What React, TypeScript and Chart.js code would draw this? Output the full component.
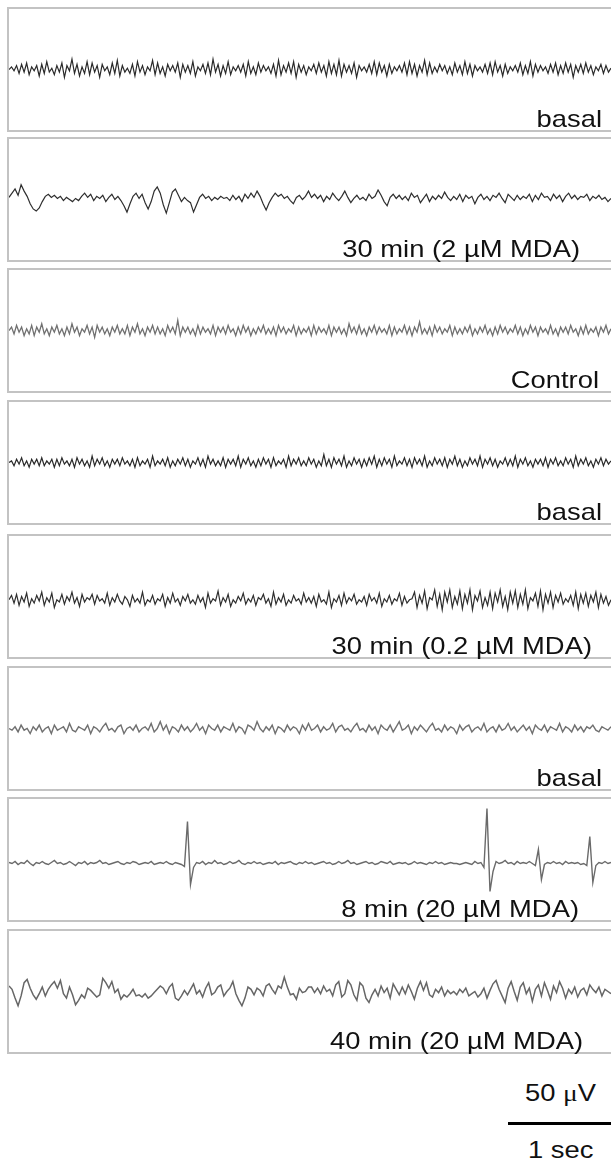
import React, { useEffect, useRef } from "react";
import { Chart, registerables } from "chart.js";

Chart.register(...registerables);

// ---------- data ----------
const LABELS = [
  "basal",
  "30 min (2 µM MDA)",
  "Control",
  "basal",
  "30 min (0.2 µM MDA)",
  "basal",
  "8 min (20 µM MDA)",
  "40 min (20 µM MDA)",
];

const TRACE_1 = [
  0,2,-1,3,-3,4,-2,5,-4,2,
  -1,3,-5,4,-3,6,-2,1,-4,3,
  -2,5,-6,3,-1,8,-3,4,-5,2,
  -3,6,-4,5,-2,3,-6,4,-1,2,
  -4,5,-3,7,-5,3,-2,1,-3,4,
  -5,6,-2,3,-4,2,-1,7,-4,5,
  -3,2,-5,4,-1,3,-2,5,-6,4,
  -2,3,-3,6,-5,2,-1,4,-3,5,
  -4,8,-2,4,-5,3,-3,6,-4,2,
  -1,3,-2,4,-5,6,-3,2,-4,5,
  -2,3,-1,2,-3,4,-5,7,-4,3,
  -2,5,-3,6,-6,4,-2,3,-4,2,
  -1,4,-3,5,-2,3,-5,6,-3,4,
  -4,7,-5,4,-2,3,-3,5,-6,3,
  -1,2,-2,4,-3,6,-4,5,-2,3,
  -5,4,-3,2,-1,3,-2,5,-4,6,
  -3,4,-5,3,-2,7,-4,5,-3,2,
  -2,4,-1,3,-3,2,-4,5,-2,3,
  -4,6,-3,4,-5,3,-1,2,-2,4,
  -3,5,-4,6,-2,3,-5,4,-3,2,
  -1,3,-2,5,-4,3,-3,6,-5,4,
  -2,3,-1,2,-3,4,-2,5,-4,3,
  -3,5,-2,4,-6,3,-2,4,-3,5,
  -2,3,-4,2,-1,4,-3,3,-2,1,
];

const TRACE_2 = [
  2,6,10,4,14,8,3,-4,-9,-11,
  -8,-2,3,5,2,4,1,3,-1,2,
  0,-2,1,-1,3,6,2,5,-1,3,
  1,4,-2,2,5,0,3,-1,-6,-12,
  -4,3,6,1,5,-3,-9,-2,8,12,
  6,-5,-13,-3,7,10,4,-2,2,-1,
  -3,-12,-5,2,5,1,3,-1,2,0,
  3,1,2,-1,4,0,3,-2,5,1,
  6,2,8,3,-4,-10,-3,2,6,3,
  5,1,3,-1,-4,2,4,0,3,8,
  2,5,1,4,-2,3,0,6,2,-1,
  3,8,2,-3,1,4,0,2,-1,5,
  1,3,9,4,-2,-6,2,5,1,4,
  0,3,-1,6,2,4,-3,1,5,-2,
  3,0,4,1,7,2,-1,3,0,5,
  -2,4,1,3,-4,2,5,0,3,-1,
  4,2,6,1,-3,5,2,-1,4,0,
  3,1,5,-2,4,0,6,2,3,-1,
  5,1,4,-2,3,6,1,4,0,3,
  2,5,-1,3,1,4,0,2,-2,1,
];

const TRACE_3 = [
  0,2,-2,3,-1,2,-3,1,-2,3,
  -3,2,-1,4,-2,1,-3,2,-1,3,
  -2,1,-3,2,-2,4,-1,2,-3,1,
  -1,3,-2,2,-4,3,-1,2,-2,1,
  -3,2,-1,3,-2,1,-2,3,-3,2,
  -1,4,-2,1,-3,2,-1,3,-2,2,
  -2,1,-3,3,-1,2,-2,6,-3,2,
  -1,2,-2,1,-3,3,-2,2,-1,1,
  -2,3,-3,2,-1,2,-2,3,-1,1,
  -3,2,-2,3,-1,2,-3,1,-2,2,
  -1,3,-2,1,-2,2,-3,3,-1,2,
  -2,1,-1,3,-3,2,-2,1,-1,2,
  -3,3,-2,2,-1,1,-2,3,-3,2,
  -1,2,-2,1,-3,4,-1,2,-2,3,
  -2,1,-3,2,-1,3,-2,2,-1,1,
  -2,3,-3,2,-2,1,-1,3,-2,2,
  -3,2,-1,5,-2,1,-2,2,-3,3,
  -1,2,-2,1,-1,3,-3,2,-2,1,
  -2,2,-1,3,-3,1,-2,2,-1,3,
  -2,1,-3,2,-2,3,-1,2,-2,1,
  -1,3,-2,2,-3,1,-2,3,-1,2,
  -3,2,-1,1,-2,3,-2,1,-3,2,
  -1,2,-2,3,-1,1,-3,2,-2,3,
  -2,1,-1,2,-3,2,-1,3,-2,1,
];

const TRACE_4 = [
  0,1,-2,2,-1,3,-2,1,-3,2,
  -1,2,-2,3,-2,1,-1,2,-3,2,
  -2,3,-1,1,-2,2,-3,3,-1,2,
  -2,1,-3,4,-2,2,-1,3,-2,1,
  -3,2,-1,2,-2,3,-1,1,-2,2,
  -3,3,-2,1,-1,2,-3,4,-2,1,
  -1,2,-2,3,-3,1,-2,2,-1,3,
  -2,2,-3,1,-1,3,-2,2,-3,4,
  -1,2,-2,1,-2,3,-3,2,-1,2,
  -2,4,-3,2,-1,3,-2,1,-3,2,
  -2,3,-1,2,-3,3,-2,1,-1,2,
  -3,4,-2,2,-1,3,-2,1,-2,3,
  -1,2,-3,1,-2,5,-2,2,-3,3,
  -1,2,-2,4,-3,1,-2,3,-1,2,
  -3,2,-2,3,-1,4,-3,2,-2,3,
  -1,2,-3,4,-2,1,-1,3,-2,2,
  -3,3,-1,2,-2,4,-3,1,-2,3,
  -1,2,-2,3,-3,2,-1,4,-2,2,
  -3,1,-2,3,-1,2,-2,4,-3,2,
  -1,3,-2,2,-3,1,-1,3,-2,2,
  -2,4,-3,2,-1,3,-2,1,-3,2,
  -1,2,-2,3,-3,2,-1,3,-2,1,
  -2,3,-1,2,-3,4,-2,2,-1,3,
  -2,1,-3,2,-1,3,-2,2,-1,1,
];

const TRACE_5 = [
  -3,1,-6,2,-8,0,-5,3,-9,-2,
  -6,1,-4,4,-8,-1,-5,3,-10,-3,
  -5,2,-7,0,-4,4,-6,-1,-9,2,
  -5,-1,-3,2,-7,1,-4,-2,-6,3,
  -8,-1,-5,2,-4,-7,0,-3,-9,1,
  -5,-2,-6,4,-8,-3,-5,1,-7,-2,
  -4,2,-9,-1,-6,3,-5,-2,-8,0,
  -4,2,-6,-3,-7,1,-5,-1,-10,3,
  -6,-2,-4,5,-8,-1,-5,2,-9,-3,
  -6,0,-4,3,-7,-2,-5,1,-8,-1,
  -3,2,-6,-2,-9,4,-7,-1,-5,2,
  -8,-3,-6,1,-4,-2,-7,3,-5,-1,
  -6,0,-9,2,-5,-3,-7,4,-10,-2,
  -5,1,-8,3,-6,-1,-4,2,-7,-3,
  -5,0,-8,2,-4,-1,-6,3,-9,-2,
  -5,1,-7,-2,-4,3,-8,0,-6,-3,
  -2,4,-10,1,-6,5,-11,-1,-3,6,
  -9,2,-12,4,-5,6,-10,0,-7,5,
  -11,2,-6,6,-12,1,-4,5,-10,-1,
  -8,4,-11,3,-5,6,-9,0,-12,4,
  -6,5,-10,2,-7,6,-11,-1,-4,3,
  -9,5,-12,2,-6,4,-10,1,-5,3,
  -7,-2,-5,1,-8,4,-11,2,-6,3,
  -9,1,-5,4,-10,2,-6,0,-8,-3,
];

const TRACE_6 = [
  0,-1,1,-2,2,-1,0,-3,1,-1,
  2,-2,0,1,-3,2,-1,0,1,-2,
  3,-1,-2,1,0,-1,2,-3,1,0,
  -2,1,3,-1,0,-2,1,2,-3,0,
  1,-1,2,-2,0,1,-1,3,-2,0,
  4,-1,2,-3,1,0,-2,2,-1,1,
  -2,0,3,-1,1,-3,2,0,-1,2,
  -2,1,0,-1,3,-2,1,0,-3,2,
  1,-1,4,0,-2,1,-1,2,-3,1,
  0,-2,2,-1,1,0,-3,2,-1,3,
  -1,0,2,-2,1,-1,0,3,-2,1,
  2,-1,0,-2,1,3,-1,0,-2,2,
  -1,1,-3,2,0,-1,2,-2,1,4,
  -1,0,2,-3,1,-1,2,0,-2,1,
  3,-1,0,-2,2,-1,1,0,-3,2,
  -1,1,2,-2,0,1,-1,3,-2,0,
  1,-2,2,-1,0,3,-1,1,-2,0,
  2,-1,1,-3,2,0,-1,2,-2,1,
  0,-1,3,-2,1,0,-2,2,-1,1,
  -2,1,0,2,-1,-2,1,0,-1,1,
];

const TRACE_7 = [
  -3,-4,-2,-5,-3,-4,-1,-4,-6,-3,
  -4,-2,-4,-5,-3,-1,-4,-3,-5,-4,
  -2,-4,-6,-3,-4,-2,-5,-3,-4,-3,
  -1,-4,-3,-5,-4,-3,-2,-4,-5,-3,
  -4,-2,-3,-5,-4,-3,-4,-2,-5,-4,
  -3,-4,-2,-4,-5,-3,-4,-5,-7,38,
  -25,-8,-3,-4,-2,-5,-3,-4,-1,-4,
  -3,-5,-4,-2,-4,-3,-1,-4,-5,-3,
  -4,-2,-4,-3,-5,-4,-3,-4,-2,-5,
  -3,-4,-3,-2,-4,-5,-3,-4,-2,-4,
  -3,-5,-4,-3,-2,-4,-3,-5,-4,-2,
  -4,-3,-1,-4,-3,-5,-4,-3,-2,-4,
  -3,-5,-4,-2,-3,-4,-2,-5,-4,-3,
  -4,-3,-5,-4,-2,-4,-3,-4,-5,-3,
  -4,-2,-4,-3,-5,-4,-3,-4,-4,-5,
  -4,-3,-4,-5,-2,-4,-3,-8,51,-32,
  -12,-2,-4,-3,-1,-4,-3,-5,-2,-4,
  -3,-4,-2,-4,-6,10,-20,-5,-3,-4,
  -2,-4,-3,-5,-2,-4,-3,-4,-3,-5,
  -4,-6,23,-23,-6,-3,-4,-2,-4,-3,
];

const TRACE_8 = [
  5,2,-6,-13,-4,8,11,3,-3,-7,
  -2,4,-4,2,6,9,3,10,-2,-6,
  4,-3,-12,-8,-3,-6,3,1,-2,-5,
  -3,12,8,3,9,-1,2,-7,-3,-5,
  -2,2,-4,-3,-5,-2,-6,-4,-1,2,
  5,3,-2,4,7,-6,-8,-4,1,-3,
  2,7,-2,1,-5,3,8,-3,-1,4,
  6,-4,0,3,9,-2,-8,-13,-6,4,
  2,-3,3,1,-4,5,7,2,-2,5,
  3,13,4,-3,-2,-7,3,-1,0,4,
  4,-1,3,-2,5,0,2,-4,6,9,
  -5,-2,10,6,-3,-8,8,5,-6,-10,
  -3,2,-4,5,-1,3,-6,7,2,-3,
  4,-2,6,0,-7,3,9,1,8,-3,
  -5,2,-1,4,-4,1,-2,0,-3,2,
  -1,3,-4,-2,0,-5,-2,3,-6,1,
  7,10,2,-4,-10,3,9,0,-8,4,
  8,-2,3,-9,2,6,-4,8,1,-7,
  5,-1,9,3,-6,2,-2,4,-5,1,
  3,-3,6,2,-1,4,-4,2,0,-2,
];

const TRACES = [TRACE_1, TRACE_2, TRACE_3, TRACE_4, TRACE_5, TRACE_6, TRACE_7, TRACE_8];

const SCALE_V_LABEL = "50 ";
const SCALE_V_UNIT = "μ";
const SCALE_V_UNIT2 = "V";
const SCALE_T_LABEL = "1 sec";

// ---------- layout / style ----------
const PANEL_TOPS = [7, 137, 268, 400, 534, 666, 797, 929];
const PANEL_H = 125;
const PANEL_LEFT = 7;
const BORDER = 2;
const PLOT_W = 602;
const PLOT_H = PANEL_H - 2 * BORDER;
// vertical display gain per panel (scale setting, not data)
const PANEL_GAIN = [1.3, 1.05, 1.7, 1.6, 1.1, 1.7, 1, 1.1];
const LABEL_RIGHT = [602, 580, 599, 602, 592, 602, 579, 583];
const TRACE_COLORS = ["#2a2a2a", "#2e2e2e", "#707070", "#2a2a2a", "#2e2e2e", "#707070", "#6a6a6a", "#666666"];
const TRACE_WIDTHS = [1.2, 1.2, 1.3, 1.2, 1.2, 1.4, 1.4, 1.5];
const FONT = "'Liberation Sans', Arial, Helvetica, sans-serif";
const FONT_SIZE = 24;
const STRETCH = 1.14;

function Trace({ values, color, width, gain }: { values: number[]; color: string; width: number; gain: number }) {
  const ref = useRef<HTMLCanvasElement | null>(null);
  useEffect(() => {
    if (!ref.current) return;
    const half = PLOT_H / 2 / gain;
    const chart = new Chart(ref.current, {
      type: "line",
      data: {
        datasets: [
          {
            data: values.map((v, i) => ({ x: i, y: v })),
            borderColor: color,
            borderWidth: width,
            pointRadius: 0,
            tension: 0,
            fill: false,
          },
        ],
      },
      options: {
        animation: false,
        responsive: false,
        maintainAspectRatio: false,
        events: [],
        layout: { padding: 0 },
        plugins: { legend: { display: false }, tooltip: { enabled: false }, title: { display: false } },
        scales: {
          x: { type: "linear", min: 0, max: values.length - 1, display: false },
          y: { type: "linear", min: -half, max: half, display: false },
        },
      },
    } as any);
    return () => chart.destroy();
  }, [values, color, width, gain]);
  return (
    <canvas
      ref={ref}
      width={PLOT_W}
      height={PLOT_H}
      style={{ position: "absolute", left: 0, top: 0, width: PLOT_W, height: PLOT_H, display: "block" }}
    />
  );
}

export default function App() {
  const textStyle: React.CSSProperties = {
    position: "absolute",
    fontFamily: FONT,
    fontSize: FONT_SIZE,
    lineHeight: "24px",
    color: "#111",
    whiteSpace: "nowrap",
  };
  return (
    <div
      style={{
        position: "absolute",
        left: 0,
        top: 0,
        width: 611,
        height: 1163,
        overflow: "hidden",
        background: "#fff",
      }}
    >
      {TRACES.map((vals, i) => (
        <div
          key={i}
          style={{
            position: "absolute",
            left: PANEL_LEFT,
            top: PANEL_TOPS[i],
            width: 620,
            height: PANEL_H,
            boxSizing: "border-box",
            border: `${BORDER}px solid #c3c3c3`,
            background: "#fff",
          }}
        >
          <Trace values={vals} color={TRACE_COLORS[i]} width={TRACE_WIDTHS[i]} gain={PANEL_GAIN[i]} />
        </div>
      ))}
      {LABELS.map((lab, i) => (
        <div
          key={"l" + i}
          style={{
            ...textStyle,
            left: 0,
            width: LABEL_RIGHT[i],
            textAlign: "right",
            top: PANEL_TOPS[i] + PANEL_H - 5 - 20,
            transform: `scaleX(${STRETCH})`,
            transformOrigin: "right center",
          }}
        >
          {lab}
        </div>
      ))}
      <div
        style={{
          ...textStyle,
          left: 525,
          top: 1081,
          transform: `scaleX(${STRETCH})`,
          transformOrigin: "left center",
        }}
      >
        {SCALE_V_LABEL}
        <span style={{ fontFamily: "'Liberation Serif', 'DejaVu Serif', serif" }}>{SCALE_V_UNIT}</span>
        {SCALE_V_UNIT2}
      </div>
      <div style={{ position: "absolute", left: 508, top: 1122, width: 103, height: 3, background: "#000" }} />
      <div
        style={{
          ...textStyle,
          left: 528,
          top: 1138,
          transform: `scaleX(${STRETCH})`,
          transformOrigin: "left center",
        }}
      >
        {SCALE_T_LABEL}
      </div>
    </div>
  );
}
